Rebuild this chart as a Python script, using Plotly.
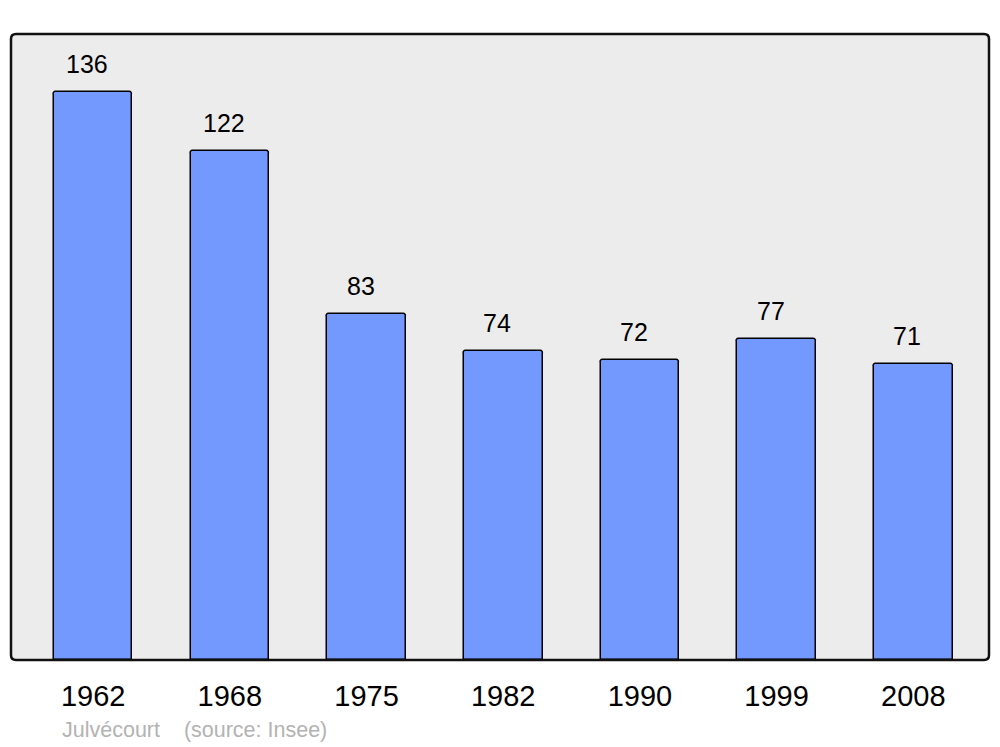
import plotly.graph_objects as go

years = ["1962", "1968", "1975", "1982", "1990", "1999", "2008"]
population = [136, 122, 83, 74, 72, 77, 71]
footer = "Julvécourt&nbsp;&nbsp;&nbsp;&nbsp;(source: Insee)"

FONT = "Liberation Sans, Arial, sans-serif"
W, H = 1000, 747
ml, mr, mt, mb = 11, 11, 34, 87
pw, ph = W - ml - mr, H - mt - mb

fig = go.Figure()
fig.add_trace(go.Bar(
    x=list(range(len(years))), y=population, width=0.575,
    marker=dict(color="#7399FF", line=dict(color="#000000", width=1.5), cornerradius=3),
    hoverinfo="y",
))

for i, v in enumerate(population):
    fig.add_annotation(x=i, y=v, text=str(v), showarrow=False, yanchor="middle",
                       yshift=28, xshift=-6, font=dict(family=FONT, size=25, color="#000000"))

fig.add_annotation(xref="paper", yref="paper", x=(60 - ml) / pw, y=-(730 - (H - mb)) / ph,
                   xanchor="left", yanchor="middle", text=footer, showarrow=False,
                   font=dict(family=FONT, size=21.5, color="#B3B3B3"))

rx, ry = 5 / pw, 5 / ph
path = (f"M {rx},0 L {1-rx},0 Q 1,0 1,{ry} L 1,{1-ry} Q 1,1 {1-rx},1 "
        f"L {rx},1 Q 0,1 0,{1-ry} L 0,{ry} Q 0,0 {rx},0 Z")
fig.add_shape(type="path", xref="paper", yref="paper", path=path,
              line=dict(color="#111111", width=2.5), fillcolor="rgba(0,0,0,0)", layer="above")

fig.update_layout(
    width=W, height=H,
    margin=dict(l=ml, r=mr, t=mt, b=mb),
    paper_bgcolor="#FFFFFF", plot_bgcolor="#ECECEC",
    showlegend=False, bargap=0,
    xaxis=dict(range=[-0.601, 6.554], showgrid=False, zeroline=False,
               showline=False, ticks="", ticklabelstandoff=16,
               tickmode="array", tickvals=list(range(len(years))), ticktext=years,
               tickfont=dict(family=FONT, size=29, color="#000000")),
    yaxis=dict(range=[0, 150], showgrid=False, zeroline=False, showline=False,
               showticklabels=False, ticks=""),
)

fig.write_html("out.html", config={"displayModeBar": False},
               post_script="document.body.style.margin='0';document.body.style.overflow='hidden';")
